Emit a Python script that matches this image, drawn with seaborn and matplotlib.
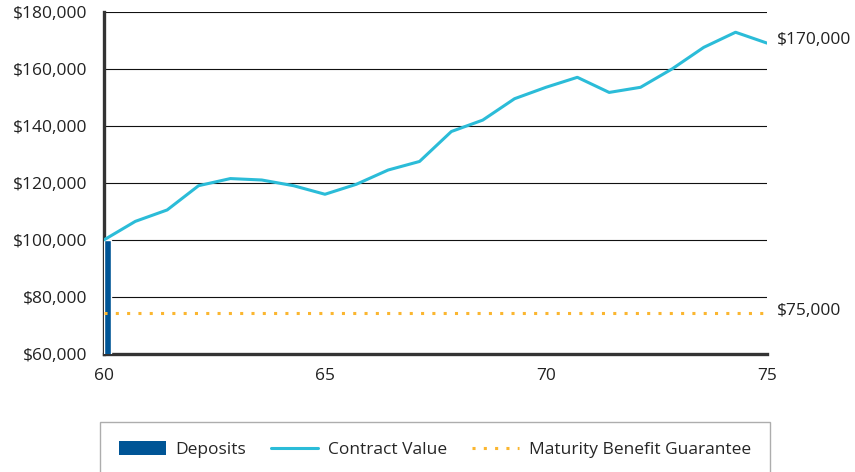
import matplotlib
matplotlib.use('Agg')
import matplotlib.pyplot as plt
import seaborn as sns
import pandas as pd
from matplotlib.patches import Patch
from matplotlib.lines import Line2D

ages = [60.0, 60.71, 61.43, 62.14, 62.86, 63.57, 64.29, 65.0, 65.71, 66.43,
        67.14, 67.86, 68.57, 69.29, 70.0, 70.71, 71.43, 72.14, 72.86, 73.57,
        74.29, 75.0]
contract_value = [100000, 106500, 110500, 119000, 121500, 121000, 119000,
                  116000, 119500, 124500, 127500, 138000, 142000, 149500,
                  153500, 157000, 151700, 153500, 160000, 167500, 172800,
                  169000]
deposit_age = [60]
deposits = [100000]
guarantee_ages = [60, 75]
guarantee = [74500, 74500]

end_labels = ["$170,000", "$75,000"]
end_values = [170000, 75000]

BLUE = "#005596"
CYAN = "#2bbcd8"
GOLD = "#fbb62f"
FS = 12.5

sns.set_theme(style="white")
plt.rcParams['font.family'] = ['Open Sans', 'DejaVu Sans']

df = pd.DataFrame({"age": ages, "value": contract_value})
gdf = pd.DataFrame({"age": guarantee_ages, "value": guarantee})

fig = plt.figure(figsize=(8.55, 4.72), dpi=100)
ax = fig.add_axes([0.1216, 0.25, 0.7754, 0.7252])

ax.bar(deposit_age, deposits, width=0.15, align='edge', color=BLUE,
       zorder=3)
sns.lineplot(data=gdf, x="age", y="value", ax=ax, color=GOLD,
             linewidth=2.2, linestyle=(0, (1, 2.7)), zorder=3)
sns.lineplot(data=df, x="age", y="value", ax=ax, color=CYAN,
             linewidth=2.2, zorder=4)

ax.set_xlim(60, 75)
ax.set_ylim(60000, 180000)
ax.set_xticks([60, 65, 70, 75])
ax.set_yticks(range(60000, 180001, 20000))
ax.set_yticklabels([f"${v:,.0f}" for v in range(60000, 180001, 20000)])
ax.set_xlabel("")
ax.set_ylabel("")
ax.grid(axis='y', color='#111111', linewidth=0.8)
ax.set_axisbelow(True)

for side in ['top', 'right']:
    ax.spines[side].set_visible(False)
for side in ['left', 'bottom']:
    ax.spines[side].set_color('#333333')
    ax.spines[side].set_linewidth(2.4)

ax.tick_params(axis='both', which='major', direction='out', length=5,
               width=0.8, color='#333333', labelsize=FS,
               labelcolor='#222222')
ax.tick_params(axis='y', pad=7)
ax.tick_params(axis='x', pad=5)

for lab, val in zip(end_labels, end_values):
    ax.text(1.015, val, lab, transform=ax.get_yaxis_transform(),
            va='center', ha='left', fontsize=FS, color='#222222')

handles = [Patch(facecolor=BLUE, edgecolor='none'),
           Line2D([], [], color=CYAN, linewidth=2.2),
           Line2D([], [], color=GOLD, linewidth=2.2,
                  linestyle=(0, (1, 2.7)))]
fig.legend(handles, ["Deposits", "Contract Value",
                     "Maturity Benefit Guarantee"],
           loc='upper left', bbox_to_anchor=(0.117, 0.106), ncol=3,
           frameon=True, fancybox=False, edgecolor='#999999',
           fontsize=FS, handlelength=2.7, handleheight=0.9,
           handletextpad=0.55, columnspacing=1.45, borderpad=1.1,
           borderaxespad=0)

fig.savefig("out.png", dpi=100)
